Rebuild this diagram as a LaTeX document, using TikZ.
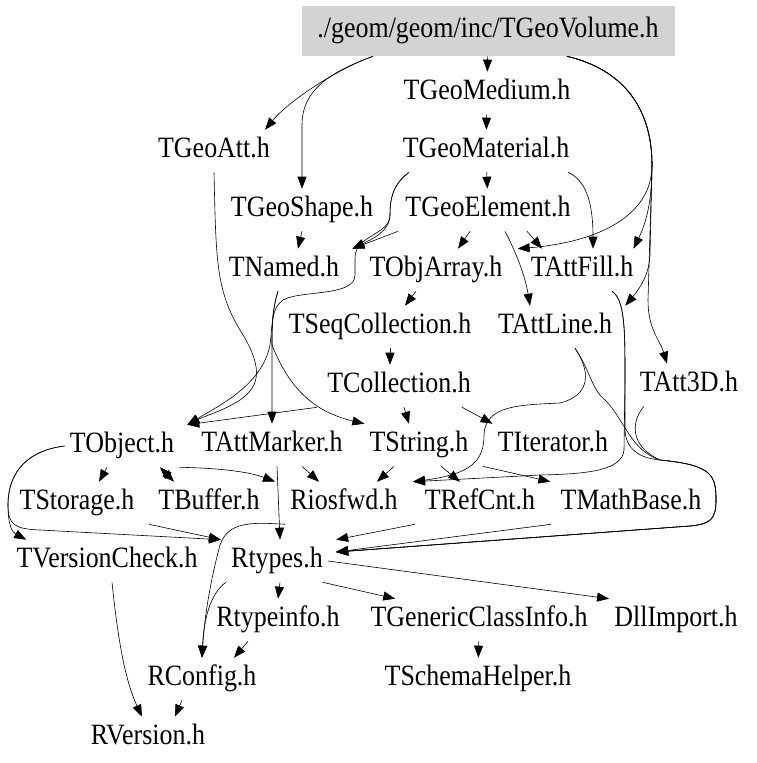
\documentclass[tikz,border=0pt]{standalone}
\usepackage{fontspec}
\setmainfont{Liberation Serif}[FakeStretch=0.88]
\usetikzlibrary{arrows.meta}
\definecolor{boxgray}{RGB}{211,211,211}

\begin{document}
\begin{tikzpicture}
		[x=1pt,y=-1pt,line width=0.6pt,>={Triangle[length=12pt,width=9pt]},
		 hfile/.style={inner xsep=5pt,inner ysep=0pt,text height=20pt,text depth=7pt,minimum height=42pt,font=\fontsize{29.5pt}{33pt}\selectfont}]
		\useasboundingbox (0,0) rectangle (757,763);

		\node[hfile,fill=boxgray,minimum width=373pt,minimum height=50pt] (vol) at (488,31) {./geom/geom/inc/TGeoVolume.h};
		\node[hfile] (med) at (487,93) {TGeoMedium.h};
		\node[hfile] (att) at (214,151) {TGeoAtt.h};
		\node[hfile] (mat) at (486,151) {TGeoMaterial.h};
		\node[hfile] (shp) at (302,210) {TGeoShape.h};
		\node[hfile] (elem) at (488,210) {TGeoElement.h};
		\node[hfile] (nam) at (284,270) {TNamed.h};
		\node[hfile] (oarr) at (436,270) {TObjArray.h};
		\node[hfile] (afill) at (582,270) {TAttFill.h};
		\node[hfile] (seq) at (380,327) {TSeqCollection.h};
		\node[hfile] (aline) at (555,327) {TAttLine.h};
		\node[hfile] (coll) at (399,386) {TCollection.h};
		\node[hfile] (a3d) at (689,385) {TAtt3D.h};
		\node[hfile] (tobj) at (122,446) {TObject.h};
		\node[hfile] (amark) at (272,445) {TAttMarker.h};
		\node[hfile] (tstr) at (419,445) {TString.h};
		\node[hfile] (iter) at (553,445) {TIterator.h};
		\node[hfile] (stor) at (77,503) {TStorage.h};
		\node[hfile] (buf) at (209,503) {TBuffer.h};
		\node[hfile] (ios) at (344,503) {Riosfwd.h};
		\node[hfile] (rcnt) at (480,503) {TRefCnt.h};
		\node[hfile] (mbase) at (631,503) {TMathBase.h};
		\node[hfile] (vchk) at (107,561) {TVersionCheck.h};
		\node[hfile] (rtyp) at (277,561) {Rtypes.h};
		\node[hfile] (rinfo) at (278,620) {Rtypeinfo.h};
		\node[hfile] (gci) at (479,620) {TGenericClassInfo.h};
		\node[hfile] (dll) at (676,620) {DllImport.h};
		\node[hfile] (rconf) at (202,679) {RConfig.h};
		\node[hfile] (schem) at (478,679) {TSchemaHelper.h};
		\node[hfile] (rver) at (148,738) {RVersion.h};

		\draw[->] (vol) -- (med);
		\draw[->] ([xshift=-115pt]vol.south) .. controls (330,72) and (285,105) .. ([xshift=-10pt]att.north east);
		\draw[->] ([xshift=-115pt]vol.south) .. controls (330,72) and (302,90) .. (302,125) -- (shp.north);
		\draw[->] ([xshift=79pt]vol.south) .. controls (625,70) and (652,110) .. (652,165) .. controls (652,215) and (600,242) .. ([xshift=10pt]oarr.north east);
		\draw[->] ([xshift=79pt]vol.south) .. controls (625,70) and (652,110) .. (652,165) .. controls (652,205) and (645,225) .. ([xshift=-5pt]afill.north east);
		\draw[->] ([xshift=79pt]vol.south) .. controls (625,70) and (652,110) .. (652,165) -- (650,255) .. controls (649,275) and (640,288) .. ([xshift=8pt]aline.north east);
		\draw[->] ([xshift=79pt]vol.south) .. controls (625,70) and (652,110) .. (652,165) -- (648,300) .. controls (648,330) and (660,340) .. ([xshift=-22pt]a3d.north);

		\draw[->] (med) -- (mat);
		\draw[->] (mat) -- (elem);
		\draw[->] ([xshift=-77pt]mat.south) .. controls (392,185) and (390,200) .. (390,215) .. controls (390,232) and (370,240) .. ([xshift=8pt]nam.north east);
		\draw[->] ([xshift=82pt]mat.south) .. controls (585,180) and (593,200) .. ([xshift=11pt]afill.north);
		\draw[->] ([xshift=-77pt]mat.south) .. controls (392,185) and (390,200) .. (390,215) .. controls (390,235) and (355,235) .. (355,258) -- (355,275) .. controls (355,297) and (300,290) .. (283,300) .. controls (272,308) and (272,320) .. (272,345) -- (amark.north);

		\draw[->] (shp.south) -- ([xshift=14pt]nam.north);
		\draw[->] ([xshift=-90pt]elem.south) -- ([xshift=8pt]nam.north east);
		\draw[->] ([xshift=-18pt]elem.south) -- ([xshift=22pt]oarr.north);
		\draw[->] ([xshift=17pt]elem.south) .. controls (515,250) and (525,275) .. ([xshift=-25pt]aline.north);
		\draw[->] ([xshift=39pt]elem.south) -- ([xshift=-40pt]afill.north);

		\draw[->] (att.south) .. controls (216,260) and (216,290) .. (240,330) .. controls (262,365) and (262,385) .. (240,400) .. controls (225,410) and (205,416) .. ([xshift=8pt]tobj.north east);
		\draw[->] ([xshift=-6pt]nam.south) .. controls (272,310) and (272,330) .. (270,345) .. controls (262,385) and (220,405) .. ([xshift=8pt]tobj.north east);
		\draw[->] ([xshift=-6pt]nam.south) .. controls (272,310) and (272,330) .. (272,345) .. controls (290,390) and (315,412) .. (tstr.north west);
		\draw[->] ([xshift=-20pt]oarr.south) -- ([xshift=25pt]seq.north);
		\draw[->] ([xshift=10pt]seq.south) -- ([xshift=-9pt]coll.north);
		\draw[->] ([xshift=-5pt]coll.south west) -- ([xshift=8pt]tobj.north east);
		\draw[->] ([xshift=5pt]coll.south) -- ([xshift=-10pt]tstr.north);
		\draw[->] ([xshift=-14pt]coll.south east) -- (iter.north west);

		\draw[->] ([xshift=20pt]aline.south) .. controls (590,370) and (592,395) .. (560,403) .. controls (520,405) and (485,405) .. (484,435) .. controls (484,462) and (470,474) .. ([xshift=10pt]ios.north east);
		\draw[->] ([xshift=30pt]afill.south) .. controls (625,300) and (625,330) .. (625,380) -- (624,450) .. controls (622,470) and (590,474) .. (540,475) -- ([xshift=10pt]ios.north east);
		\draw[->] ([xshift=20pt]aline.south) .. controls (590,370) and (592,390) .. (605,400) .. controls (625,420) and (630,450) .. (660,460) .. controls (712,465) and (716,475) .. (716,500) .. controls (716,520) and (710,524) .. (690,526) -- ([xshift=8pt]rtyp.10);
		\draw[->] ([xshift=30pt]afill.south) .. controls (625,300) and (625,330) .. (625,380) -- (625,430) .. controls (626,450) and (640,458) .. (660,460) .. controls (712,465) and (716,475) .. (716,500) .. controls (716,520) and (710,524) .. (690,526) -- ([xshift=8pt]rtyp.10);
		\draw[->] ([xshift=-45pt]a3d.south) .. controls (632,420) and (628,445) .. (660,460) .. controls (712,465) and (716,475) .. (716,500) .. controls (716,520) and (710,524) .. (690,526) -- ([xshift=8pt]rtyp.10);

		\draw[->] ([xshift=-15pt]tobj.south) -- ([xshift=22pt]stor.north);
		\draw[<->] ([xshift=38pt]tobj.south) -- ([xshift=-35pt]buf.north);
		\draw[->] (tobj.south east) .. controls (220,468) and (250,472) .. ([xshift=-10pt]ios.north west);
		\draw[->] ([xshift=30pt]amark.south) -- ([xshift=-25pt]ios.north);
		\draw[->] ([xshift=5pt]amark.south) -- ([xshift=3pt]rtyp.north);
		\draw[->] ([xshift=-25pt]tstr.south) -- ([xshift=33pt]ios.north);
		\draw[->] ([xshift=22pt]tstr.south) -- ([xshift=-20pt]rcnt.north);
		\draw[->] ([xshift=9pt]tstr.south east) -- ([xshift=-5pt]mbase.north west);
		\draw[->] (tobj.west) .. controls (30,450) and (8,470) .. (8,505) .. controls (8,525) and (12,532) .. ([xshift=15pt]vchk.north west);
		\draw[->] (tobj.west) .. controls (30,450) and (8,470) .. (8,505) .. controls (8,525) and (15,529) .. (40,530) -- ([xshift=-5pt]rtyp.north west);
		\draw[->] ([xshift=-60pt]buf.south) -- ([xshift=-5pt]rtyp.north west);

		\draw[->] (ios.south west) .. controls (250,522) and (228,522) .. (220,545) .. controls (212,575) and (205,610) .. (rconf.north);
		\draw[->] ([xshift=-65pt]rcnt.south) -- ([xshift=8pt]rtyp.north east);
		\draw[->] ([xshift=-80pt]mbase.south) -- ([xshift=8pt]rtyp.10);
		\draw[->] (rtyp.south west) .. controls (212,592) and (204,615) .. (rconf.north);
		\draw[->] ([xshift=3pt]rtyp.south) -- (rinfo.north);
		\draw[->] (rtyp.-25) -- ([xshift=30pt]gci.north west);
		\draw[->] (rtyp.east) -- (dll.north west);
		\draw[->] ([xshift=-30pt]rinfo.south) -- ([xshift=32pt]rconf.north);
		\draw[->] (gci) -- (schem);
		\draw[->] ([xshift=5pt]vchk.south) .. controls (118,640) and (125,680) .. ([xshift=-6pt]rver.north);
		\draw[->] ([xshift=-20pt]rconf.south) -- ([xshift=27pt]rver.north);

	\end{tikzpicture}
\end{document}
